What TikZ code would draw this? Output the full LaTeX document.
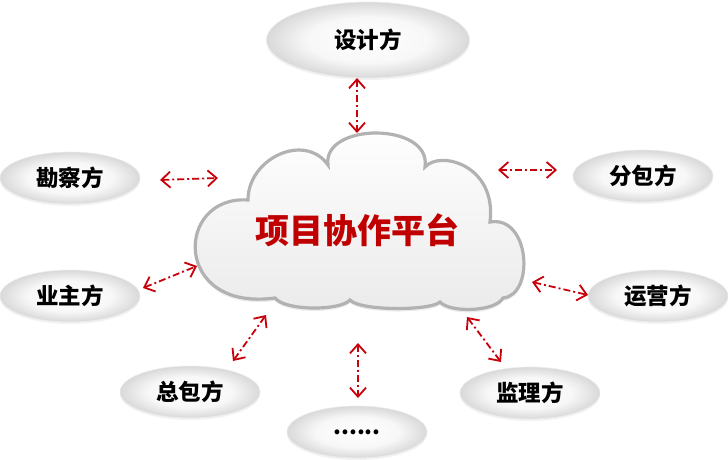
\documentclass[tikz,border=0pt]{standalone}
\usepackage{fontspec}
\newfontfamily\cjk{Noto Sans CJK SC}
\usetikzlibrary{shapes.geometric, shadows, arrows.meta}
\definecolor{linkred}{HTML}{C8000A}
\definecolor{titlered}{HTML}{C00000}
\pgfdeclareradialshading{softedge}{\pgfpoint{0bp}{0bp}}{color(0bp)=(white); color(15bp)=(white!97!black); color(25bp)=(gray!30); color(50bp)=(gray!30)}

\begin{document}
\begin{tikzpicture}[x=1pt, y=-1pt,
	party/.style={ellipse, minimum width=140pt, minimum height=52pt, inner sep=0pt,
		shading=softedge, draw=gray!15, line width=0.6pt,
		drop shadow={opacity=0.10, shadow xshift=0pt, shadow yshift=-2pt},
		font=\cjk\bfseries\fontsize{22.5}{26}\selectfont},
	cloudbody/.style={top color=white, bottom color=gray!16, draw=gray!60, line width=3.2pt,
		drop shadow={opacity=0.15, shadow xshift=0pt, shadow yshift=-3pt}},
	link/.style={linkred, line width=1.8pt, dash pattern=on 7pt off 3pt on 2pt off 3pt,
		{Straight Barb[length=9pt,width=16pt]}-{Straight Barb[length=9pt,width=16pt]}}]
	\useasboundingbox (0,0) rectangle (728,460);
	
	% platform in the middle
	\draw [cloudbody] (248,200)
		.. controls (248,158) and (305,132) .. (328,165)
		.. controls (322,122) and (432,122) .. (425,167)
		.. controls (440,150) and (497,165) .. (490,222)
		.. controls (530,215) and (535,295) .. (503,298)
		.. controls (495,312) and (450,313) .. (440,302)
		.. controls (430,311) and (360,311) .. (350,300)
		.. controls (340,311) and (285,311) .. (275,298)
		.. controls (172,312) and (175,195) .. cycle;
	\node [font=\cjk\bfseries\fontsize{34}{40}\selectfont, text=titlered] (title) at (357,230) {项目协作平台};
	
	% parties
	\node [party, minimum width=203pt, minimum height=76pt] (design) at (368,40) {设计方};
	\node [party] (survey) at (70,178) {勘察方};
	\node [party] (owner) at (70,296) {业主方};
	\node [party] (subcon) at (643,176) {分包方};
	\node [party] (operator) at (658,296) {运营方};
	\node [party] (general) at (190,392) {总包方};
	\node [party] (supervisor) at (530,393) {监理方};
	\node [party] (others) at (357,432) {......};
	
	% links
	\coordinate (design-a) at (357,78);
	\coordinate (design-b) at (357,133);
	\draw [link] (design-a) -- (design-b);
	
	\coordinate (survey-a) at (160,180);
	\coordinate (survey-b) at (218,178);
	\draw [link] (survey-a) -- (survey-b);
	
	\coordinate (owner-a) at (143,288);
	\coordinate (owner-b) at (197,266);
	\draw [link] (owner-a) -- (owner-b);
	
	\coordinate (subcon-a) at (498,170);
	\coordinate (subcon-b) at (557,170);
	\draw [link] (subcon-a) -- (subcon-b);
	
	\coordinate (operator-a) at (532,282);
	\coordinate (operator-b) at (588,295);
	\draw [link] (operator-a) -- (operator-b);
	
	\coordinate (general-a) at (233,361);
	\coordinate (general-b) at (266,315);
	\draw [link] (general-a) -- (general-b);
	
	\coordinate (supervisor-a) at (467,317);
	\coordinate (supervisor-b) at (501,362);
	\draw [link] (supervisor-a) -- (supervisor-b);
	
	\coordinate (others-a) at (358,343);
	\coordinate (others-b) at (358,398);
	\draw [link] (others-a) -- (others-b);
\end{tikzpicture}
\end{document}
